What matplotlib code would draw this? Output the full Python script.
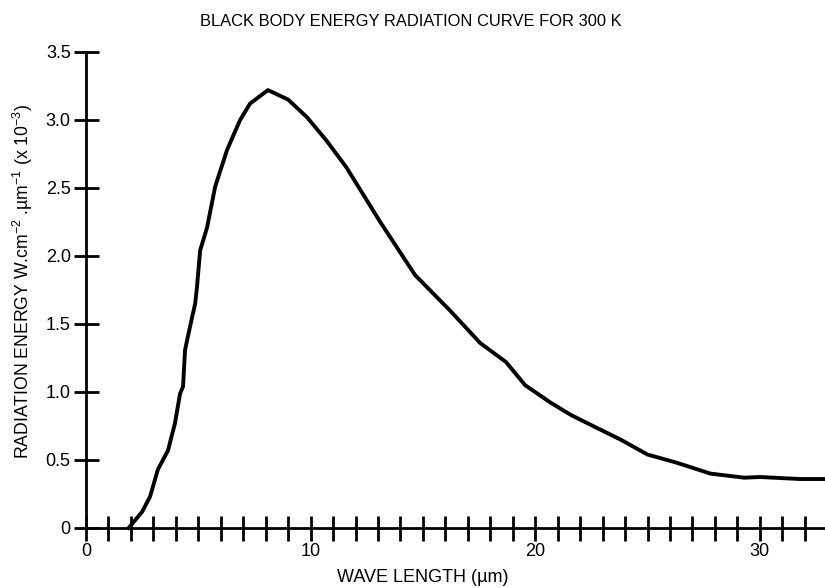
import matplotlib
matplotlib.use("Agg")
import matplotlib.pyplot as plt

fam = "Liberation Sans"
plt.rcParams['font.family'] = [fam, 'DejaVu Sans']
plt.rcParams['mathtext.fontset'] = 'custom'
plt.rcParams['mathtext.rm'] = fam
plt.rcParams['mathtext.it'] = fam
plt.rcParams['mathtext.default'] = 'regular'

# Data
wavelength = [1.9, 2.5, 2.85, 3.2, 3.65, 3.96, 4.19, 4.32, 4.41, 4.63, 4.86, 4.94,
              5.08, 5.39, 5.75, 6.28, 6.86, 7.3, 8.1, 9.0, 9.84, 10.7, 11.6, 13.1,
              14.65, 16.2, 17.55, 18.7, 19.55, 20.7, 21.6, 22.45, 23.8, 25.0, 26.3,
              27.8, 29.3, 30.0, 31.8, 32.9]
energy = [0.0, 0.12, 0.23, 0.43, 0.57, 0.77, 0.99, 1.04, 1.31, 1.48, 1.65, 1.77,
          2.04, 2.21, 2.51, 2.78, 3.0, 3.12, 3.22, 3.15, 3.02, 2.85, 2.65, 2.25,
          1.86, 1.6, 1.36, 1.22, 1.05, 0.92, 0.83, 0.76, 0.65, 0.54, 0.48,
          0.40, 0.37, 0.375, 0.36, 0.36]
y_ticks = [0, 0.5, 1.0, 1.5, 2.0, 2.5, 3.0, 3.5]
y_tick_labels = ["0", "0.5", "1.0", "1.5", "2.0", "2.5", "3.0", "3.5"]
x_major = [0, 10, 20, 30]
x_minor = list(range(0, 33))

fig = plt.figure(figsize=(8.25, 5.88), dpi=100)
ax = fig.add_axes([86/825, 1-528/588, 1-86/825, (528-52)/588])
ax.plot(wavelength, energy, color='black', lw=2.8, solid_joinstyle='round', clip_on=False)
ax.set_xlim(0, 32.9)
ax.set_ylim(0, 3.5)
for s in ['top', 'right']:
    ax.spines[s].set_visible(False)
for s in ['left', 'bottom']:
    ax.spines[s].set_linewidth(2)
ax.set_yticks(y_ticks)
ax.set_yticklabels(y_tick_labels)
ax.set_xticks(x_minor)
ax.set_xticklabels([str(v) if v in x_major else "" for v in x_minor])
ax.tick_params(axis='both', direction='inout', length=18, width=2, labelsize=13, colors='black')
ax.tick_params(axis='y', pad=2)
ax.tick_params(axis='x', pad=2)
fig.text(423/825, 1-577/588, "WAVE LENGTH (\u00b5m)", ha='center', va='center', fontsize=13)
fig.text(23/825, 1-281/588,
         "RADIATION ENERGY W.cm$^{-2}$ .\u00b5m$^{-1}$ (x 10$^{-3}$)",
         rotation=90, ha='center', va='center', fontsize=12.7)
fig.text(411/825, 1-22/588, "BLACK BODY ENERGY RADIATION CURVE FOR 300 K",
         ha='center', va='center', fontsize=11.9)
fig.savefig("out.png", dpi=100)
